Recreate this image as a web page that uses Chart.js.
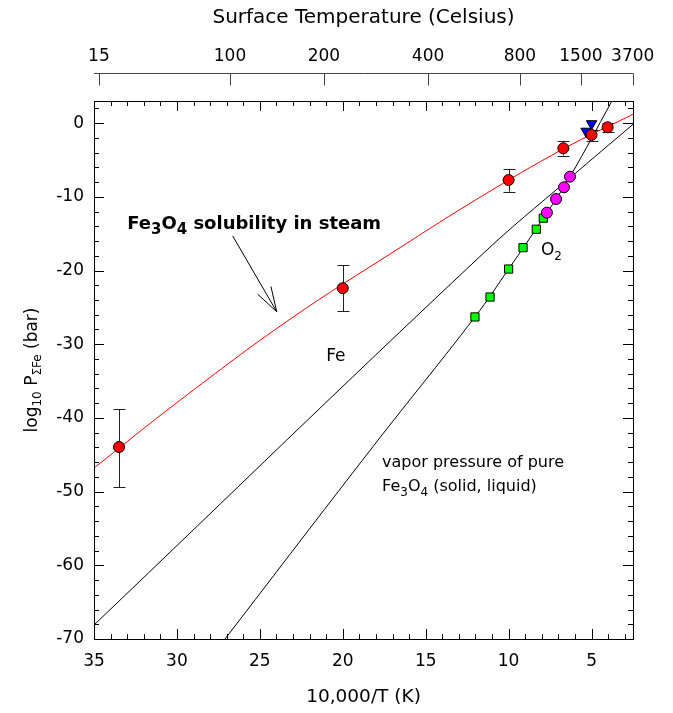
<!DOCTYPE html>
<html>
<head>
<meta charset="utf-8">
<script src="https://cdn.jsdelivr.net/npm/chart.js@4/dist/chart.umd.min.js"></script>
<style>
  html, body { margin: 0; padding: 0; background: #fff; }
  #wrap { width: 673px; height: 713px; }
</style>
</head>
<body>
<div id="wrap"><canvas id="chart" width="673" height="713"></canvas></div>
<script>
// --- values ---
// Fe3O4 solubility in steam (red circles + error bars)
const solX  = [33.49, 20.0, 10.0, 6.7, 5.0, 4.03];
const solY  = [-43.95, -22.4, -7.72, -3.42, -1.6, -0.57];
const solLo = [-49.4, -25.5, -9.3, -4.4, -2.4, -1.2];
const solHi = [-38.8, -19.3, -6.2, -2.4, -0.9, -0.03];
// red fitted curve
const fitX = [35, 29.81, 23.24, 16.55, 11.73, 6.7, 2.5];
const fitY = [-46.8, -37.6, -26.7, -16.9, -10.07, -3.5, 1.2];
// Fe line
const feX = [35, 11.73, 6.3, 2.5];
const feY = [-68.1, -18.1, -7.45, -0.17];
// vapor pressure of pure Fe3O4
const vapX = [27.1, 18.18, 12.03, 10.0, 7.91, 6.3, 3.77];
const vapY = [-70, -43.9, -26.3, -19.8, -12.9, -7.27, 3];
// markers on the vapor pressure curve
const greenX = [12.03, 11.12, 10.0, 9.13, 8.33, 7.91];
const greenY = [-26.3, -23.6, -19.8, -16.9, -14.4, -12.9];
const magX = [7.69, 7.14, 6.66, 6.30];
const magY = [-12.15, -10.3, -8.71, -7.27];
const blueX = [5.33, 5.0];
const blueY = [-1.1, -0.08];
// axes
const xMajor = [35, 30, 25, 20, 15, 10, 5];
const yMajor = [-70, -60, -50, -40, -30, -20, -10, 0];
const celsius = [15, 100, 200, 400, 800, 1500, 3700];

const FAM = '"DejaVu Sans", "Liberation Sans", Arial, sans-serif';
Chart.defaults.font.family = FAM;
Chart.defaults.color = '#000';

const pts = (xs, ys) => xs.map((x, i) => ({ x, y: ys[i] }));

// draw text made of normal / subscript parts
function rich(ctx, x, y, parts, size, subSize, shift, weight) {
  let cx = x;
  for (const [t, sub] of parts) {
    ctx.font = `${weight || 'normal'} ${sub ? subSize : size}px ${FAM}`;
    ctx.fillText(t, cx, y + (sub ? shift : 0));
    cx += ctx.measureText(t).width;
  }
  return cx - x;
}
function richWidth(ctx, parts, size, subSize, weight) {
  let w = 0;
  for (const [t, sub] of parts) {
    ctx.font = `${weight || 'normal'} ${sub ? subSize : size}px ${FAM}`;
    w += ctx.measureText(t).width;
  }
  return w;
}

const decor = {
  id: 'decor',
  beforeDatasetsDraw(chart) {
    const { ctx, scales: { x, y } } = chart;
    ctx.save();
    ctx.strokeStyle = '#222';
    ctx.lineWidth = 1;
    solX.forEach((v, i) => {
      const px = Math.round(x.getPixelForValue(v)) + 0.5;
      const lo = y.getPixelForValue(solLo[i]);
      const hi = y.getPixelForValue(solHi[i]);
      ctx.beginPath();
      ctx.moveTo(px, lo); ctx.lineTo(px, hi);
      ctx.moveTo(px - 6, Math.round(lo) + 0.5); ctx.lineTo(px + 6, Math.round(lo) + 0.5);
      ctx.moveTo(px - 6, Math.round(hi) + 0.5); ctx.lineTo(px + 6, Math.round(hi) + 0.5);
      ctx.stroke();
    });
    ctx.restore();
  },
  afterDatasetsDraw(chart) {
    const { ctx, chartArea: a, scales: { x, y, xTop } } = chart;
    ctx.save();
    ctx.strokeStyle = '#000';
    ctx.lineWidth = 1;
    // frame
    ctx.strokeRect(Math.round(a.left) + 0.5, Math.round(a.top) + 0.5,
                   Math.round(a.right - a.left), Math.round(a.bottom - a.top));
    // inward ticks
    ctx.beginPath();
    for (let v = 3; v <= 35; v++) {
      const px = Math.round(x.getPixelForValue(v)) + 0.5;
      const len = v % 5 === 0 ? 10 : 5;
      ctx.moveTo(px, a.bottom); ctx.lineTo(px, a.bottom - len);
      ctx.moveTo(px, a.top); ctx.lineTo(px, a.top + len);
    }
    for (let v = -70; v <= 2; v += 2) {
      const py = Math.round(y.getPixelForValue(v)) + 0.5;
      const len = v % 10 === 0 ? 10 : 5;
      ctx.moveTo(a.left, py); ctx.lineTo(a.left + len, py);
      ctx.moveTo(a.right, py); ctx.lineTo(a.right - len, py);
    }
    ctx.stroke();
    // Celsius axis line with downward ticks
    const ly = a.top - 28 + 0.5;
    ctx.strokeStyle = '#444';
    ctx.beginPath();
    ctx.moveTo(a.left, ly); ctx.lineTo(a.right, ly);
    xTop.ticks.forEach(t => {
      const px = Math.round(xTop.getPixelForValue(t.value)) + 0.5;
      ctx.moveTo(px, ly); ctx.lineTo(px, ly + 12);
    });
    ctx.stroke();

    // arrow
    ctx.strokeStyle = '#000';
    const tx = x.getPixelForValue(26.64), ty = y.getPixelForValue(-15.3);
    const hx = x.getPixelForValue(23.98), hy = y.getPixelForValue(-25.6);
    const ang = Math.atan2(ty - hy, tx - hx);
    ctx.beginPath();
    ctx.moveTo(tx, ty); ctx.lineTo(hx, hy);
    [-0.3, 0.3].forEach(d => {
      ctx.moveTo(hx, hy);
      ctx.lineTo(hx + 26 * Math.cos(ang + d), hy + 26 * Math.sin(ang + d));
    });
    ctx.stroke();

    // labels
    ctx.fillStyle = '#000';
    ctx.textBaseline = 'alphabetic';
    ctx.textAlign = 'left';
    rich(ctx, x.getPixelForValue(33.0), y.getPixelForValue(-14.4),
      [['Fe', 0], ['3', 1], ['O', 0], ['4', 1], [' solubility in steam', 0]], 18, 15, 5, 'bold');
    rich(ctx, x.getPixelForValue(21.0), y.getPixelForValue(-32.3), [['Fe', 0]], 17, 12, 5);
    rich(ctx, x.getPixelForValue(8.05), y.getPixelForValue(-17.9), [['O', 0], ['2', 1]], 17, 12, 5);
    rich(ctx, x.getPixelForValue(17.63), y.getPixelForValue(-46.66),
      [['vapor pressure of pure', 0]], 16, 12, 5);
    rich(ctx, x.getPixelForValue(17.63), y.getPixelForValue(-49.9),
      [['Fe', 0], ['3', 1], ['O', 0], ['4', 1], [' (solid, liquid)', 0]], 16, 12, 5);

    // y axis title, rotated
    const parts = [['log', 0], ['10', 1], [' P', 0], ['\u03A3Fe', 1], [' (bar)', 0]];
    const w = richWidth(ctx, parts, 17, 12);
    ctx.translate(37, (a.top + a.bottom) / 2);
    ctx.rotate(-Math.PI / 2);
    rich(ctx, -w / 2, 0, parts, 17, 12, 4);
    ctx.restore();
  }
};

const lineDs = (label, xs, ys, color, order) => ({
  label, data: pts(xs, ys), showLine: true, borderColor: color, borderWidth: 1,
  pointRadius: 0, tension: 0.4, order
});

new Chart(document.getElementById('chart'), {
  type: 'scatter',
  data: {
    datasets: [
      { label: 'solubility', data: pts(solX, solY), pointStyle: 'circle', pointRadius: 5.5,
        backgroundColor: '#ff0000', borderColor: '#000', borderWidth: 1, order: 1 },
      { label: 'blue', data: pts(blueX, blueY), pointStyle: 'triangle', rotation: 180, pointRadius: 6,
        backgroundColor: '#0000ff', borderColor: '#000', borderWidth: 1, order: 2 },
      { label: 'magenta', data: pts(magX, magY), pointStyle: 'circle', pointRadius: 5.5,
        backgroundColor: '#ff00ff', borderColor: '#000', borderWidth: 1, order: 1 },
      { label: 'green', data: pts(greenX, greenY), pointStyle: 'rect', pointRadius: 5.8,
        backgroundColor: '#00ff00', borderColor: '#000', borderWidth: 1, order: 2 },
      lineDs('fit', fitX, fitY, '#ff0000', 5),
      lineDs('Fe', feX, feY, '#000', 5),
      lineDs('vapor', vapX, vapY, '#000', 5)
    ]
  },
  options: {
    responsive: false,
    animation: false,
    layout: { padding: { left: 0, right: 40, top: 0, bottom: 0 } },
    plugins: { legend: { display: false }, tooltip: { enabled: false } },
    scales: {
      x: {
        type: 'linear', position: 'bottom', min: 2.5, max: 35, reverse: true,
        afterBuildTicks: s => { s.ticks = xMajor.map(v => ({ value: v })); },
        afterFit: s => { s.height = 74; s.paddingLeft = 0; s.paddingRight = 0; },
        grid: { display: false, drawTicks: false }, border: { display: false },
        ticks: { padding: 12, font: { size: 17 }, color: '#000', maxRotation: 0, autoSkip: false },
        title: { display: true, text: '10,000/T (K)', font: { size: 18.5 }, color: '#000',
                 padding: { top: 0, bottom: 5 } }
      },
      xTop: {
        type: 'linear', position: 'top', min: 2.5, max: 35, reverse: true,
        afterBuildTicks: s => { s.ticks = celsius.map(c => ({ value: 10000 / (c + 273.15) })); },
        afterFit: s => { s.height = 101; s.paddingLeft = 0; s.paddingRight = 0; },
        grid: { display: false, drawTicks: false }, border: { display: false },
        ticks: { padding: 34, font: { size: 17 }, color: '#000', maxRotation: 0, autoSkip: false,
                 callback: (v, i) => String(celsius[i]) },
        title: { display: true, text: 'Surface Temperature (Celsius)', font: { size: 20 }, color: '#000',
                 padding: { top: 6, bottom: 0 } }
      },
      y: {
        type: 'linear', position: 'left', min: -70, max: 3,
        afterBuildTicks: s => { s.ticks = yMajor.map(v => ({ value: v })); },
        afterFit: s => { s.width = 94; s.paddingTop = 0; s.paddingBottom = 0; },
        grid: { display: false, drawTicks: false }, border: { display: false },
        ticks: { padding: 10, font: { size: 17 }, color: '#000', autoSkip: false,
                 callback: v => String(v) }
      }
    }
  },
  plugins: [decor]
});
</script>
</body>
</html>
